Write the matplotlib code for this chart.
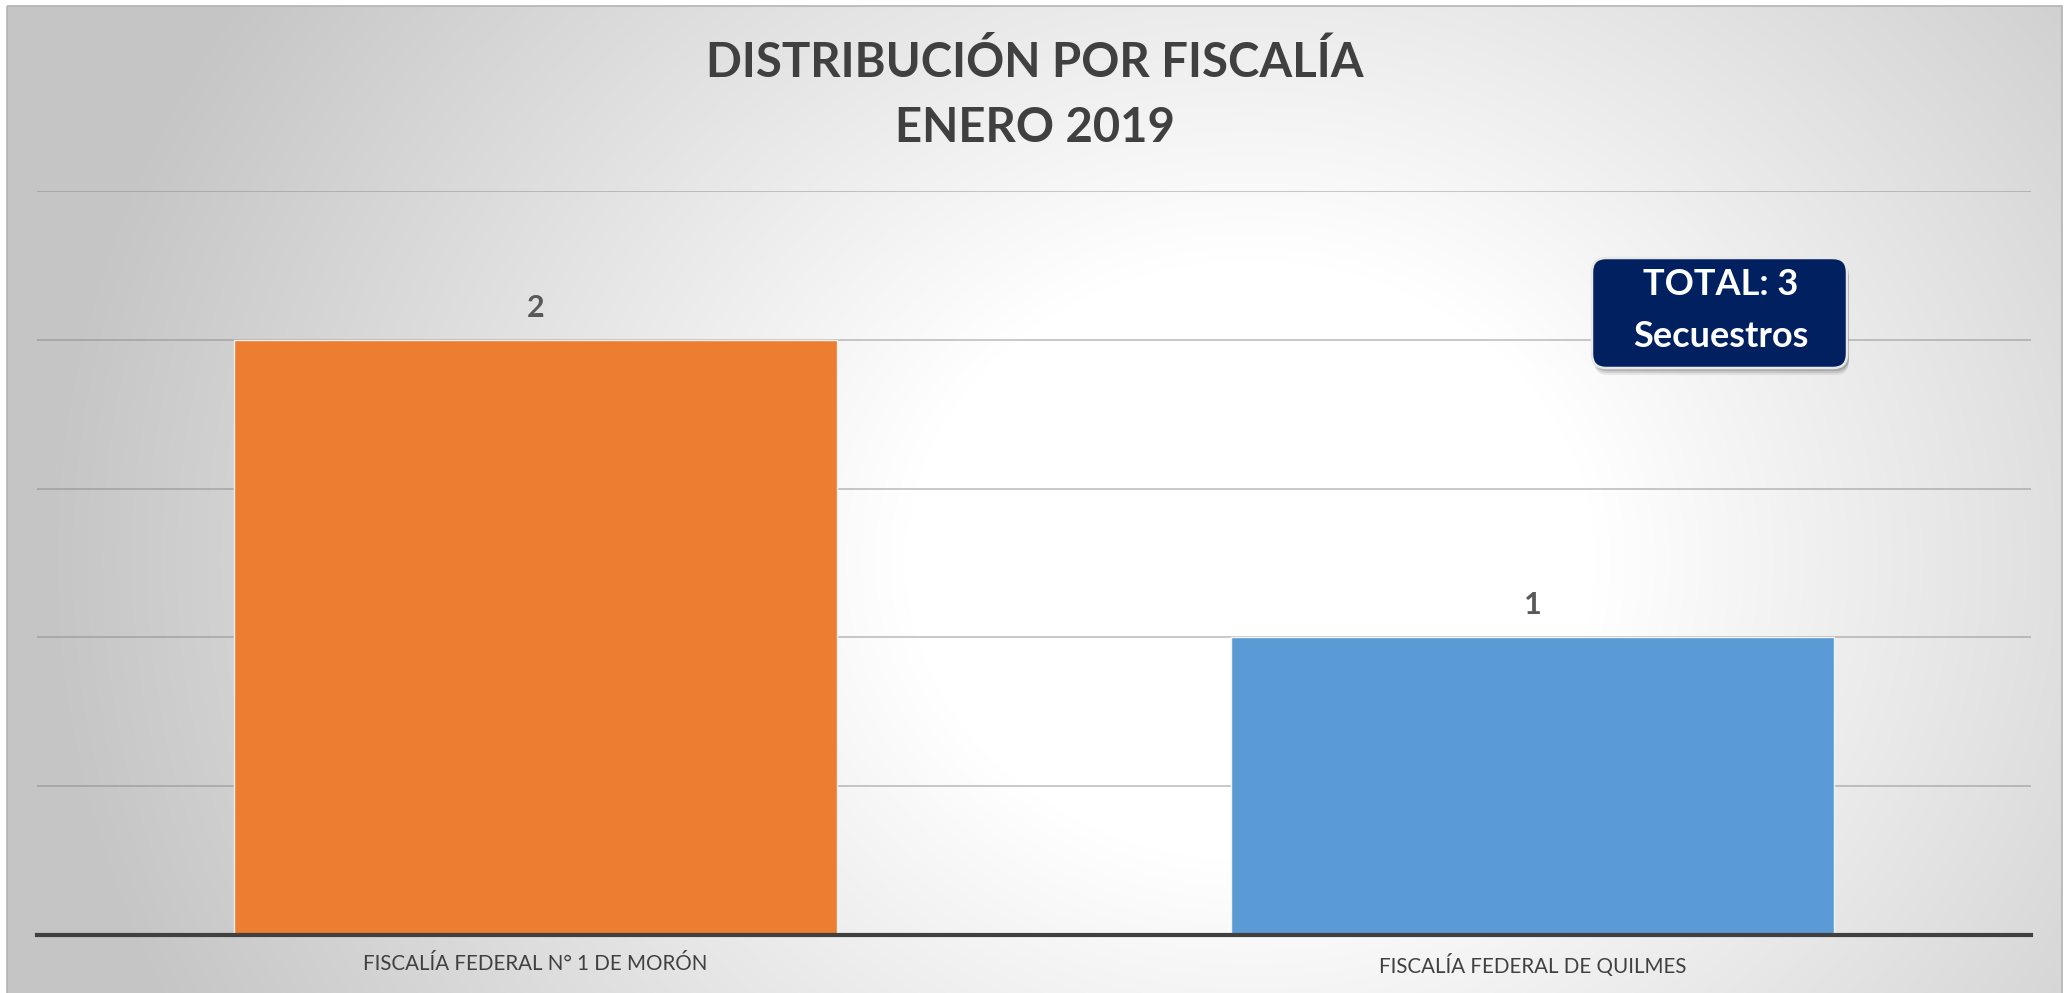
import numpy as np
import matplotlib.pyplot as plt
from matplotlib.patches import FancyBboxPatch, Rectangle

# datos
fiscalias = ["FISCALÍA FEDERAL N° 1 DE MORÓN", "FISCALÍA FEDERAL DE QUILMES"]
secuestros = [2, 1]
colores = ["#ED7D31", "#5B9BD5"]
titulo = "DISTRIBUCIÓN POR FISCALÍA\nENERO 2019"
total_txt = "TOTAL: 3\nSecuestros"

W, H = 2067, 993
plt.rcParams['font.family'] = ["Lato", "DejaVu Sans"]

fig = plt.figure(figsize=(W / 100, H / 100), dpi=100)

# fondo con degradado radial
bg = fig.add_axes([0, 0, 1, 1])
yy, xx = np.mgrid[0:H, 0:W]
d = np.sqrt(((xx - 1250) / 1150.0) ** 2 + ((yy - 560) / 1000.0) ** 2)
t = np.clip((d - 0.3) / 0.75, 0, 1)
v = (255 - 58 * t) / 255.0
img = np.dstack([v, v, v])
img[:6, :] = 1
img[:, :7] = 1
img[:, 2062:] = 1
bg.imshow(img, extent=[0, W, H, 0], aspect='auto', interpolation='bilinear')
bg.add_patch(Rectangle((7, 6), 2055, H, fill=False, edgecolor="#b4b4b4", lw=1.2))
bg.set_xlim(0, W)
bg.set_ylim(H, 0)
bg.axis('off')

# grafico de barras
ax = fig.add_axes([37 / W, 58 / H, (2031 - 37) / W, (935 - 191) / H])
ax.patch.set_alpha(0)
x = np.arange(len(fiscalias))
barras = ax.bar(x, secuestros, width=0.605, color=colores, edgecolor="#f2f2f2",
                linewidth=1.0, zorder=3)
ax.set_xlim(-0.5, 1.5)
ax.set_ylim(0, 2.5)
ax.set_yticks(np.arange(0.5, 2.6, 0.5))
ax.yaxis.grid(True, color="#7f7f7f", alpha=0.42, lw=1.4, zorder=0)
ax.tick_params(axis='y', left=False, labelleft=False)
ax.tick_params(axis='x', length=0, pad=14)
ax.set_xticks(x)
ax.set_xticklabels(fiscalias, fontsize=14.8, color="#404040")
for s in ['top', 'left', 'right']:
    ax.spines[s].set_visible(False)
ax.spines['bottom'].set_color("#404040")
ax.spines['bottom'].set_linewidth(3)
ax.spines['bottom'].set_zorder(4)

for b, val in zip(barras, secuestros):
    ax.annotate(str(val), (b.get_x() + b.get_width() / 2, val), xytext=(0, 23),
                textcoords='offset points', ha='center', va='center',
                fontsize=22, fontweight='bold', color="#595959")

# titulo
lineas = titulo.split("\n")
fig.text(1035 / W, 1 - 77 / H, lineas[0], ha='center', va='baseline', fontsize=34,
         fontweight='bold', color="#404040")
fig.text(1035 / W, 1 - 142 / H, lineas[1], ha='center', va='baseline', fontsize=34,
         fontweight='bold', color="#404040")

# recuadro total
bx0, bx1, by0, by1 = 1592, 1847, 258, 368
for k, a in [(7, 0.10), (5, 0.15), (3, 0.2)]:
    sh = FancyBboxPatch((bx0 + 2, by0 + k), bx1 - bx0, by1 - by0,
                        boxstyle="round,pad=0,rounding_size=14",
                        facecolor="#404040", edgecolor='none', alpha=a,
                        transform=bg.transData, zorder=5)
    fig.add_artist(sh)
caja = FancyBboxPatch((bx0, by0), bx1 - bx0, by1 - by0,
                      boxstyle="round,pad=0,rounding_size=14",
                      facecolor="#002060", edgecolor="#e8e8e8", lw=1.8,
                      transform=bg.transData, zorder=6)
fig.add_artist(caja)
t1, t2 = total_txt.split("\n")
fig.text(1721 / W, 1 - 295 / H, t1, ha='center', va='baseline', fontsize=26,
         fontweight='bold', color='white', zorder=7)
fig.text(1721 / W, 1 - 347 / H, t2, ha='center', va='baseline', fontsize=26,
         fontweight='bold', color='white', zorder=7)

fig.savefig("out.png", dpi=100)
